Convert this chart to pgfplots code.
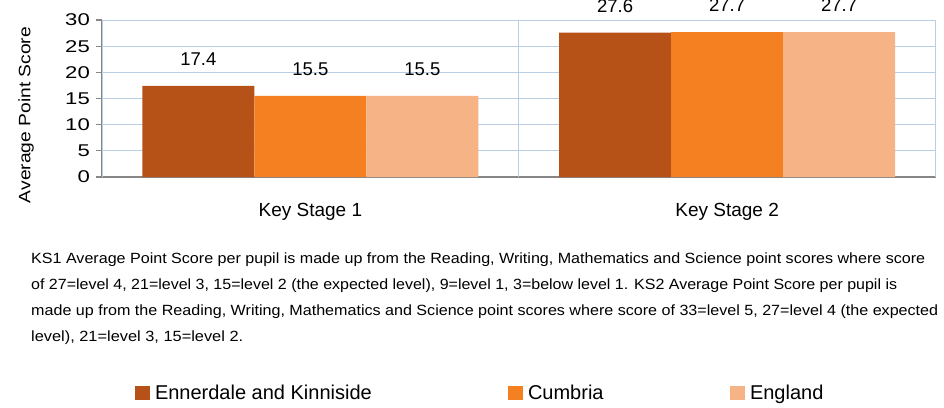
\documentclass[border=0pt]{standalone}
\usepackage{pgfplots}
\pgfplotsset{compat=1.18}
\usepackage{fontspec}
\setmainfont{Liberation Sans}
\usepackage{graphicx}
\definecolor{cDark}{RGB}{182,81,24}
\definecolor{cOrange}{RGB}{245,128,33}
\definecolor{cLight}{RGB}{246,179,134}
\definecolor{gridblue}{RGB}{185,205,229}
\definecolor{axgrey}{RGB}{134,134,134}
\begin{document}
\begin{tikzpicture}
\begin{axis}[
  at={(102pt,-177pt)}, anchor=south west,
  scale only axis, width=833.5pt, height=157pt,
  xmin=0, xmax=2, ymin=0, ymax=30,
  ybar=0pt, bar width=112pt,
  axis lines=left, axis line style={-, draw=axgrey, line width=1.3pt},
  ytick={0,5,...,30},
  ymajorgrids, grid style={draw=gridblue, line width=1pt},
  tick align=outside, major tick length=6pt,
  tick style={draw=axgrey, line width=1.3pt},
  yticklabel={\scalebox{1.3}[1]{\pgfmathprintnumber{\tick}}},
  yticklabel style={font=\fontsize{17}{17}\selectfont, inner sep=0pt, xshift=-6pt},
  xtick={0.5,1.5}, xticklabels={Key Stage 1,Key Stage 2},
  xtick style={draw=none},
  xticklabel style={font=\fontsize{19}{19}\selectfont, anchor=center, yshift=-29pt},
  extra x ticks={0,1,2}, extra x tick labels={},
  extra x tick style={grid=major, tick style={draw=axgrey, line width=1.3pt}},
  /pgf/number format/assume math mode=true,
  /pgf/number format/fixed, /pgf/number format/precision=1,
  nodes near coords,
  nodes near coords style={font=\fontsize{18.5}{18.5}\selectfont, inner sep=0pt, anchor=south, yshift=20pt},
  legend image code/.code={\fill[#1] (0pt,-7pt) rectangle (15pt,7pt);},
  legend columns=3,
  legend style={at={(0.0396,-1.376)}, anchor=west, draw=none, fill=none, inner sep=0pt, outer sep=0pt,
    column sep=0pt, font=\fontsize{20}{20}\selectfont, nodes={inner sep=0pt}},
  clip=false,
]
\addplot[fill=cDark, draw=none] coordinates {(0.5,17.4) (1.5,27.6)};
\addlegendentry{\hspace*{5pt}\makebox[353pt][l]{Ennerdale and Kinniside}}
\addplot[fill=cOrange, draw=none] coordinates {(0.5,15.5) (1.5,27.7)};
\addlegendentry{\hspace*{5pt}\makebox[202pt][l]{Cumbria}}
\addplot[fill=cLight, draw=none] coordinates {(0.5,15.5) (1.5,27.7)};
\addlegendentry{\hspace*{5pt}England}
\end{axis}
\node[rotate=90, inner sep=0pt] at (26pt,-115pt) {\resizebox{176pt}{\height}{\fontsize{16.5}{16.5}\selectfont Average Point Score}};
\node[anchor=base west, inner sep=0pt] at (31pt,-263pt) {\resizebox{894pt}{\height}{\fontsize{14.8}{14.8}\selectfont KS1 Average Point Score per pupil is made up from the Reading, Writing, Mathematics and Science point scores where score}};
\node[anchor=base west, inner sep=0pt] at (31pt,-289pt) {\resizebox{866pt}{\height}{\fontsize{14.8}{14.8}\selectfont of 27=level 4, 21=level 3, 15=level 2 (the expected level), 9=level 1, 3=below level 1. KS2 Average Point Score per pupil is}};
\node[anchor=base west, inner sep=0pt] at (31pt,-315pt) {\resizebox{907pt}{\height}{\fontsize{14.8}{14.8}\selectfont made up from the Reading, Writing, Mathematics and Science point scores where score of 33=level 5, 27=level 4 (the expected}};
\node[anchor=base west, inner sep=0pt] at (31pt,-341pt) {\resizebox{212pt}{\height}{\fontsize{14.8}{14.8}\selectfont level), 21=level 3, 15=level 2.}};
\pgfresetboundingbox
\useasboundingbox (0pt,0pt) rectangle (944pt,-407pt);
\end{tikzpicture}
\end{document}
